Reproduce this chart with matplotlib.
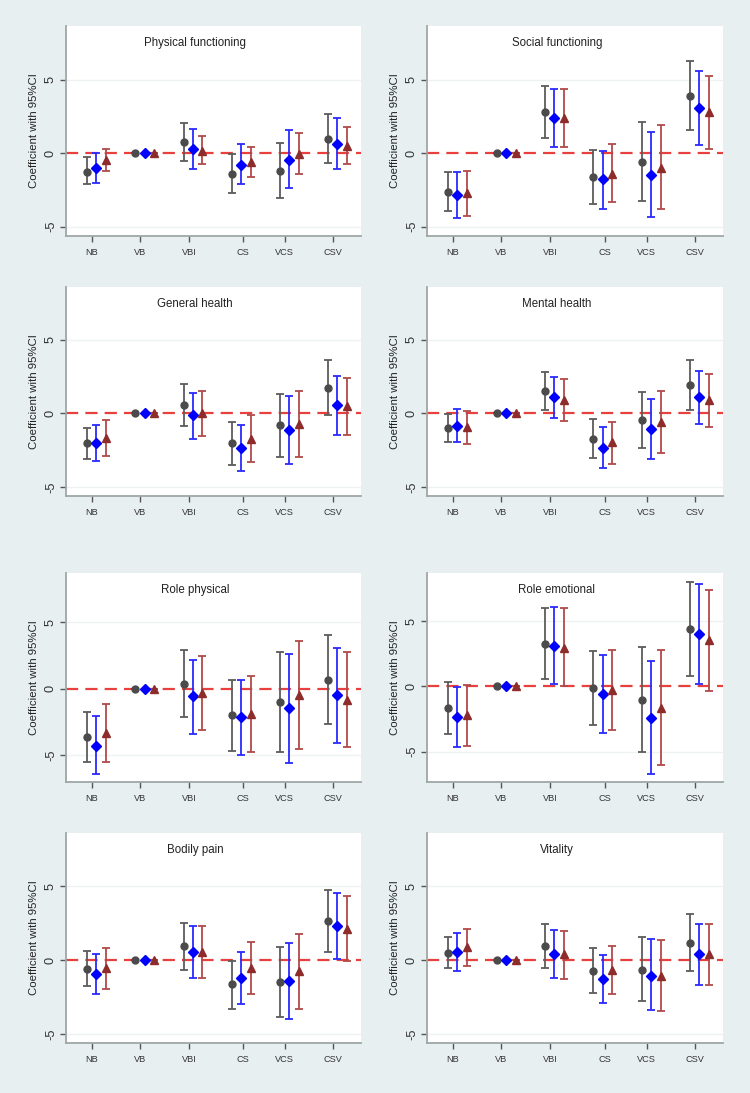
import numpy as np
import matplotlib
matplotlib.use("Agg")
import matplotlib.pyplot as plt

plt.rcParams['font.family'] = ['Liberation Sans', 'DejaVu Sans']

categories = ["NB", "VB", "VBI", "CS", "VCS", "CSV"]
panel_titles = ["Physical functioning", "Social functioning", "General health", "Mental health",
                "Role physical", "Role emotional", "Bodily pain", "Vitality"]
ylabel_text = "Coefficient with 95%CI"
yticks_vals = [-5, 0, 5]

# rows: grey model, blue model, red model ; columns: categories
pf_est = [[-1.25, 0, 0.75, -1.43, -1.2, 0.95], [-0.98, 0, 0.3, -0.77, -0.43, 0.65], [-0.45, 0, 0.18, -0.6, -0.02, 0.52]]
pf_lo = [[-2.1, 0, -0.5, -2.73, -3.05, -0.68], [-2.02, 0, -1.05, -2.09, -2.36, -1.05], [-1.2, 0, -0.75, -1.6, -1.43, -0.75]]
pf_hi = [[-0.27, 0, 2.05, -0.05, 0.7, 2.65], [0.05, 0, 1.65, 0.6, 1.57, 2.4], [0.32, 0, 1.18, 0.42, 1.36, 1.78]]

sf_est = [[-2.64, 0, 2.82, -1.61, -0.59, 3.91], [-2.84, 0, 2.41, -1.77, -1.45, 3.07], [-2.68, 0, 2.41, -1.39, -0.98, 2.82]]
sf_lo = [[-3.95, 0, 1.02, -3.48, -3.23, 1.57], [-4.41, 0, 0.43, -3.77, -4.34, 0.55], [-4.27, 0, 0.43, -3.32, -3.82, 0.32]]
sf_hi = [[-1.3, 0, 4.59, 0.23, 2.16, 6.3], [-1.3, 0, 4.34, 0.18, 1.43, 5.57], [-1.2, 0, 4.34, 0.61, 1.91, 5.27]]

gh_est = [[-2.03, 0, 0.54, -2.03, -0.81, 1.69], [-1.99, 0, -0.14, -2.35, -1.13, 0.54], [-1.67, 0, 0.0, -1.72, -0.7, 0.5]]
gh_lo = [[-3.09, 0, -0.86, -3.5, -2.93, -0.14], [-3.23, 0, -1.72, -3.9, -3.41, -1.44], [-2.87, 0, -1.51, -3.27, -2.96, -1.44]]
gh_hi = [[-1.02, 0, 1.96, -0.56, 1.29, 3.59], [-0.77, 0, 1.38, -0.77, 1.17, 2.53], [-0.47, 0, 1.51, -0.14, 1.51, 2.42]]

mh_est = [[-1.02, 0, 1.51, -1.72, -0.45, 1.92], [-0.84, 0, 1.08, -2.35, -1.06, 1.08], [-0.9, 0, 0.9, -1.96, -0.61, 0.9]]
mh_lo = [[-1.96, 0, 0.25, -3.02, -2.35, 0.25], [-1.92, 0, -0.32, -3.72, -3.09, -0.7], [-2.05, 0, -0.52, -3.43, -2.66, -0.93]]
mh_hi = [[-0.05, 0, 2.82, -0.41, 1.44, 3.59], [0.29, 0, 2.46, -0.9, 0.99, 2.89], [0.18, 0, 2.3, -0.56, 1.49, 2.69]]

rp_est = [[-3.67, 0, 0.35, -2.01, -1.0, 0.68], [-4.3, 0, -0.58, -2.16, -1.48, -0.48], [-3.34, 0, -0.3, -1.91, -0.45, -0.83]]
rp_lo = [[-5.55, 0, -2.16, -4.67, -4.8, -2.69], [-6.43, 0, -3.39, -4.97, -5.58, -4.1], [-5.55, 0, -3.09, -4.77, -4.57, -4.42]]
rp_hi = [[-1.78, 0, 2.89, 0.63, 2.79, 4.02], [-2.09, 0, 2.16, 0.68, 2.64, 3.07], [-1.18, 0, 2.49, 0.93, 3.59, 2.76]]

re_est = [[-1.68, 0, 3.24, -0.15, -1.05, 4.39], [-2.37, 0, 3.11, -0.61, -2.4, 4.0], [-2.19, 0, 2.91, -0.28, -1.63, 3.52]]
re_lo = [[-3.67, 0, 0.59, -2.96, -5.03, 0.77], [-4.64, 0, 0.2, -3.6, -6.71, 0.2], [-4.59, 0, 0.0, -3.34, -6.0, -0.36]]
re_hi = [[0.33, 0, 5.97, 2.68, 2.98, 7.96], [-0.05, 0, 6.1, 2.37, 1.96, 7.81], [0.1, 0, 5.97, 2.76, 2.81, 7.4]]

bp_est = [[-0.61, 0, 0.95, -1.62, -1.46, 2.66], [-0.92, 0, 0.59, -1.19, -1.4, 2.32], [-0.54, 0, 0.59, -0.52, -0.74, 2.14]]
bp_lo = [[-1.73, 0, -0.68, -3.27, -3.83, 0.56], [-2.27, 0, -1.17, -2.93, -3.94, 0.07], [-1.91, 0, -1.17, -2.3, -3.31, -0.07]]
bp_hi = [[0.61, 0, 2.5, -0.05, 0.9, 4.77], [0.41, 0, 2.32, 0.54, 1.19, 4.57], [0.86, 0, 2.32, 1.24, 1.76, 4.32]]

vt_est = [[0.52, 0, 0.97, -0.72, -0.63, 1.17], [0.56, 0, 0.43, -1.26, -1.04, 0.43], [0.88, 0, 0.41, -0.68, -1.06, 0.43]]
vt_lo = [[-0.52, 0, -0.5, -2.23, -2.77, -0.72], [-0.7, 0, -1.19, -2.88, -3.38, -1.67], [-0.41, 0, -1.24, -2.3, -3.45, -1.67]]
vt_hi = [[1.6, 0, 2.43, 0.86, 1.6, 3.11], [1.82, 0, 2.05, 0.38, 1.42, 2.48], [2.12, 0, 2.0, 0.99, 1.37, 2.48]]

panels = [(pf_est, pf_lo, pf_hi), (sf_est, sf_lo, sf_hi), (gh_est, gh_lo, gh_hi), (mh_est, mh_lo, mh_hi),
          (rp_est, rp_lo, rp_hi), (re_est, re_lo, re_hi), (bp_est, bp_lo, bp_hi), (vt_est, vt_lo, vt_hi)]

# ---------------- styling / layout ----------------
W, H = 750, 1093
BG = '#e8eff0'
fig = plt.figure(figsize=(W / 100, H / 100), dpi=100, facecolor=BG)

col_lr = [(66, 361), (427, 723)]
row_tb = [(26, 236), (287, 496), (573, 782), (833, 1043)]
ylims = [(-5.63, 8.66), (-5.63, 8.66), (-5.6, 8.57), (-5.6, 8.57),
         (-7.04, 8.71), (-7.32, 8.67), (-5.59, 8.6), (-5.59, 8.6)]
title_cx = [195, 557]

marker_colors = ['#4b4b4b', '#0000ff', '#8e2b2b']
bar_colors = ['#5c5c5c', '#2a2aff', '#b04a4a']
markers = ['o', 'D', '^']
msizes = [5.0, 5.2, 5.6]
offsets = [0.0, 0.19, 0.39]
tick_shift = [0.1, 0.09, 0.11, 0.23, 0.1, 0.1]
spine_col = '#9ea6a6'
xbase = np.arange(1, len(categories) + 1)

for k, (est, lo, hi) in enumerate(panels):
    r, c = divmod(k, 2)
    l, rr = col_lr[c]
    t, b = row_tb[r]
    ax = fig.add_axes([l / W, 1 - b / H, (rr - l) / W, (b - t) / H])
    ax.set_facecolor('white')
    ax.set_xlim(0.56, 6.68)
    ax.set_ylim(*ylims[k])

    for y in (-5, 5):
        ax.axhline(y, color='#eef2f3', lw=1.0, zorder=0.5)
    ax.axhline(0, color='#e8403f', lw=1.6, ls=(0, (5.5, 3.2)), zorder=1.5)

    for s in range(3):
        e = np.array(est[s], dtype=float)
        lo_ = np.array(lo[s], dtype=float)
        hi_ = np.array(hi[s], dtype=float)
        x = xbase + offsets[s]
        ax.errorbar(x, e, yerr=[e - lo_, hi_ - e], fmt='none', ecolor=bar_colors[s],
                    elinewidth=1.3, capsize=2.7, capthick=1.3, zorder=2)
        ax.plot(x, e, ls='none', marker=markers[s], ms=msizes[s], color=marker_colors[s],
                mec=marker_colors[s], zorder=3)

    for side in ('top', 'right'):
        ax.spines[side].set_visible(False)
    for side in ('left', 'bottom'):
        ax.spines[side].set_color(spine_col)
        ax.spines[side].set_linewidth(1.3)

    ax.set_xticks(xbase + np.array(tick_shift))
    ax.set_xticklabels(categories, fontsize=6.6, color='#333333')
    ax.set_yticks(yticks_vals)
    ax.set_yticklabels([str(v) for v in yticks_vals], rotation=90, va='center',
                       fontsize=9.2, color='#333333')
    ax.tick_params(axis='both', color='#555555', width=1.0, length=4.5)
    ax.tick_params(axis='x', pad=4)
    ax.tick_params(axis='y', pad=2)
    ax.set_ylabel(ylabel_text, fontsize=8.2, color='#222222', labelpad=4)

    fig.text(title_cx[c] / W, 1 - (t + 17) / H, panel_titles[k], ha='center', va='center',
             fontsize=8.3, color='#222222')

fig.savefig('out.png', dpi=100, facecolor=BG)
